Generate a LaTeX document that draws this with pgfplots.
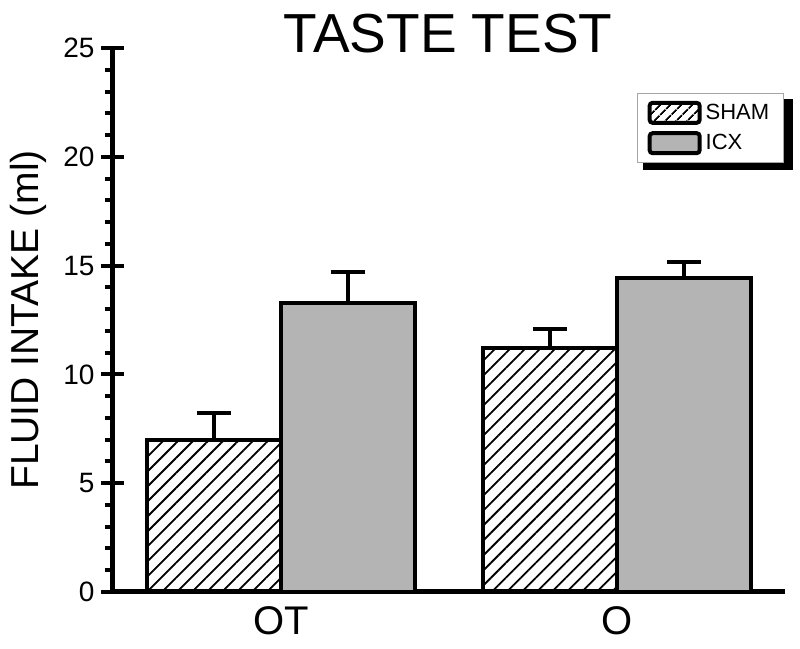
\documentclass[border=0pt]{standalone}
\usepackage{fontspec}
\setmainfont{Liberation Sans}
\usepackage{pgfplots}
\pgfplotsset{compat=1.18}
\usetikzlibrary{patterns.meta}
\definecolor{barGray}{RGB}{180,180,180}

\begin{document}
\begin{tikzpicture}
\begin{axis}[
  scale only axis, width=336pt, height=272pt,
  /pgf/number format/assume math mode=true,
  xmin=-0.5, xmax=1.5, ymin=0, ymax=25,
  axis x line=bottom, axis y line=left,
  axis line style={line width=2.5pt, -},
  xtick={0,1}, xticklabels={OT,O},
  x tick style={draw=none},
  xticklabel style={font=\fontsize{20}{22}\selectfont, yshift=2pt},
  ytick={0,5,...,25}, minor y tick num=4,
  tick align=center,
  major tick length=11.5pt, minor tick length=4pt,
  y tick style={line width=2pt, black},
  minor y tick style={xshift=-2pt},
  yticklabel style={font=\fontsize{14}{16}\selectfont},
  ylabel={FLUID INTAKE (ml)},
  ylabel style={font=\fontsize{19.5}{22}\selectfont, at={(axis description cs:-0.1265,0.5)}, anchor=center, rotate=0},
  clip=false,
  legend style={at={(0.78,0.917)}, anchor=north west,
    draw=gray!70, line width=0.5pt, fill=white,
    inner xsep=5pt, inner ysep=3pt, row sep=2pt,
    font=\fontsize{11}{13}\selectfont},
  legend cell align=left,
  bar width=0.4,
  error bars/y dir=plus, error bars/y explicit,
  error bars/error bar style={line width=2pt, black},
  error bars/error mark options={rotate=90, mark size=8.5pt, line width=2pt, black},
]
% legend shadow, drawn behind the legend box
\fill[black] (rel axis cs:0.7887,0.7757) rectangle (rel axis cs:1.0119,0.9062);
\addplot[ybar, bar shift=0pt, draw=black, line width=2pt,
  pattern={Lines[angle=45, distance=5.3pt, line width=0.9pt]}, pattern color=black,
  legend image code/.code={\draw[line width=2pt, rounded corners=1.5pt, pattern={Lines[angle=45, distance=4pt, line width=0.9pt]}] (0pt,-5pt) rectangle (25pt,5pt);}]
  coordinates {(-0.2,7.00) +- (0,1.21) (0.8,11.22) +- (0,0.87)};
\addlegendentry{SHAM}
\addplot[ybar, bar shift=0pt, draw=black, line width=2pt, fill=barGray,
  legend image code/.code={\draw[line width=2pt, rounded corners=1.5pt, fill=barGray] (0pt,-5pt) rectangle (25pt,5pt);}]
  coordinates {(0.2,13.28) +- (0,1.43) (1.2,14.42) +- (0,0.76)};
\addlegendentry{ICX}
\end{axis}
\node[font=\fontsize{27.5}{30}\selectfont, anchor=base] at (167.5pt,269.5pt) {TASTE TEST};
\pgfresetboundingbox
\path[use as bounding box] (-56.5pt,-28.5pt) rectangle (343.5pt,296pt);
\end{tikzpicture}
\end{document}
